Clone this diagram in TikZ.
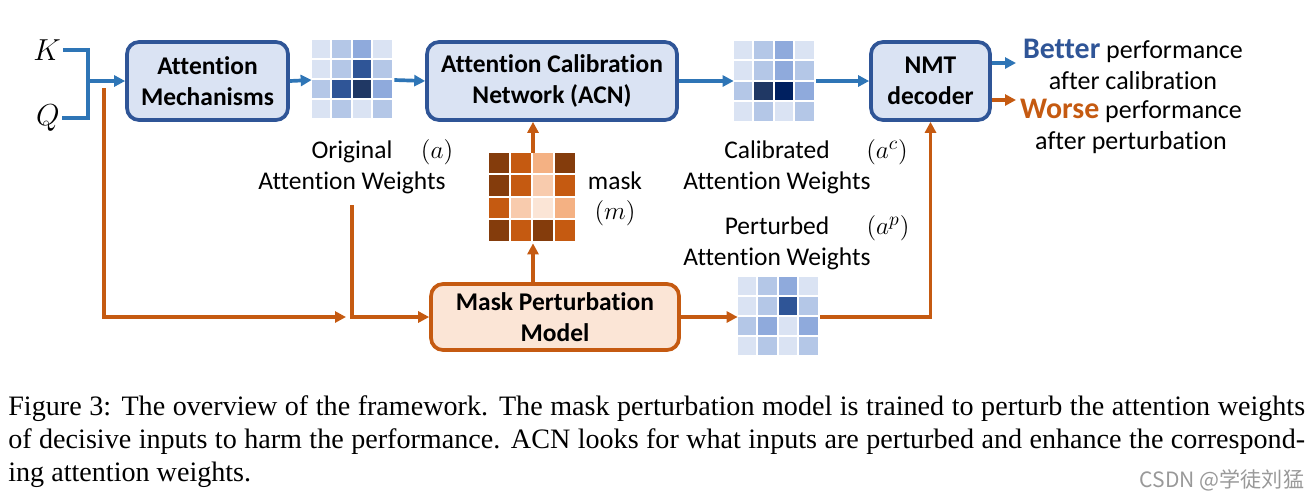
\documentclass[tikz,border=0pt]{standalone}
\usepackage{fontspec}
\setmainfont{Liberation Serif}
\setsansfont{Carlito}[Ligatures=CommonOff]
\newfontfamily\cjkfont{Noto Sans CJK SC}
\usetikzlibrary{arrows.meta,positioning,calc}
% box and arrow colours
\definecolor{boxblue}{HTML}{2F5597}
\definecolor{boxfill}{HTML}{DAE3F3}
\definecolor{arrblue}{HTML}{2E75B6}
\definecolor{orline}{HTML}{C55A11}
\definecolor{orfill}{HTML}{FBE5D6}
% heat map colours
\definecolor{bA}{HTML}{DAE3F3}
\definecolor{bB}{HTML}{B4C7E7}
\definecolor{bC}{HTML}{8FAADC}
\definecolor{bD}{HTML}{2F5597}
\definecolor{bE}{HTML}{203864}
\definecolor{bF}{HTML}{002060}
\definecolor{oA}{HTML}{FBE5D6}
\definecolor{oB}{HTML}{F8CBAD}
\definecolor{oC}{HTML}{F4B183}
\definecolor{oD}{HTML}{C55A11}
\definecolor{oE}{HTML}{843C0C}

\begin{document}
\begin{tikzpicture}[x=0.02cm, y=-0.02cm]
\tikzset{
    %Define style for boxes
    bluebox/.style={
           rectangle,
           rounded corners=0.24cm,
           draw=boxblue, line width=2.1pt,
           fill=boxfill,
           inner sep=0pt,
           align=center,
           font=\sffamily\bfseries\fontsize{14.5}{18}\selectfont},
    orangebox/.style={bluebox, draw=orline, fill=orfill},
    % Define arrow styles
    barrow/.style={
           -{Triangle[length=0.22cm, width=0.22cm]},
           draw=arrblue,
           line width=2.1pt},
    oarrow/.style={barrow, draw=orline},
    % labels and heat maps
    lbl/.style={font=\sffamily\fontsize{14.5}{17.6}\selectfont, align=center, inner sep=0pt},
    mathlbl/.style={font=\fontsize{15}{18}\selectfont, inner sep=0pt},
    heatmap/.style={inner sep=0pt, minimum width=1.64cm, minimum height=1.6cm}
}
\useasboundingbox (0,0) rectangle (1312,498);

 %inputs
 \node[font=\fontsize{16}{19}\selectfont, inner sep=1pt] (K) at (47,50) {$K$};
 \node[font=\fontsize{16}{19}\selectfont, inner sep=1pt] (Q) at (48,118) {$Q$};
 \coordinate (kq) at (88,81);
 \coordinate (qtap) at (104,88);

 %boxes
 \node[bluebox, minimum width=3.22cm, minimum height=1.56cm] (am) at (207.5,81) {Attention\\Mechanisms};
 \node[bluebox, minimum width=5cm, minimum height=1.56cm] (acn) at (552,81) {Attention Calibration\\Network (ACN)};
 \node[bluebox, minimum width=2.38cm, minimum height=1.56cm] (nmt) at (930.5,81) {NMT\\decoder};
 \node[orangebox, minimum width=4.96cm, minimum height=1.32cm] (mpm) at (555,317) {Mask Perturbation\\Model};

 %heat maps
 \node[heatmap] (orig) at (353,80) {};
 \node[heatmap] (calib) at (775,81) {};
 \node[heatmap] (pert) at (779,317) {};
 \node[heatmap, minimum width=1.76cm, minimum height=1.8cm] (mask) at (533,198) {};
 \begin{scope}[shift={(orig.north west)}]
   \foreach \row [count=\i] in {{bA,bB,bC,bA},{bA,bB,bD,bB},{bB,bD,bE,bC},{bA,bB,bA,bB}}
     \foreach \c [count=\j] in \row
       \fill[fill=\c] ({(\j-1)*20.5},{(\i-1)*20}) rectangle ++(18.5,18);
 \end{scope}
 \begin{scope}[shift={(calib.north west)}]
   \foreach \row [count=\i] in {{bA,bB,bC,bA},{bA,bB,bC,bB},{bB,bE,bF,bC},{bA,bB,bA,bB}}
     \foreach \c [count=\j] in \row
       \fill[fill=\c] ({(\j-1)*20.5},{(\i-1)*20.5}) rectangle ++(18.5,18.5);
 \end{scope}
 \begin{scope}[shift={(pert.north west)}]
   \foreach \row [count=\i] in {{bA,bB,bC,bA},{bA,bB,bD,bB},{bB,bC,bA,bC},{bA,bB,bA,bB}}
     \foreach \c [count=\j] in \row
       \fill[fill=\c] ({(\j-1)*20.5},{(\i-1)*20}) rectangle ++(18.5,18);
 \end{scope}
 \begin{scope}[shift={(mask.north west)}]
   \foreach \row [count=\i] in {{oE,oD,oC,oE},{oE,oD,oB,oD},{oD,oB,oA,oC},{oE,oD,oE,oD}}
     \foreach \c [count=\j] in \row
       \fill[fill=\c] ({(\j-1)*22},{(\i-1)*22.5}) rectangle ++(20,20.5);
 \end{scope}

 %labels
 \node[lbl] (origlbl) at (352,167) {Original\\Attention Weights};
 \node[mathlbl] at (437,152) {$(a)$};
 \node[lbl] (caliblbl) at (777,167) {Calibrated\\Attention Weights};
 \node[mathlbl] at (887,152) {$(a^c)$};
 \node[lbl] (pertlbl) at (777,243) {Perturbed\\Attention Weights};
 \node[mathlbl] at (888,228) {$(a^p)$};
 \node[lbl] (masklbl) at (615,181) {mask};
 \node[mathlbl] at (615,213) {$(m)$};
 \coordinate (wtap) at (352,205);

 %outputs
 \node[lbl, font=\sffamily\fontsize{14.8}{17.6}\selectfont] (better) at (1133,64)
   {{\fontsize{17}{17}\selectfont\bfseries\color{boxblue}Better} performance\\after calibration};
 \node[lbl, font=\sffamily\fontsize{14.8}{17.6}\selectfont] (worse) at (1131,126)
   {{\fontsize{17}{17}\selectfont\bfseries\color{orline}Worse} performance\\after perturbation};
 \coordinate (outb) at (1016,63);
 \coordinate (outw) at (1016,100);

 %connectors
 \draw[barrow, -] (K.east) -| (kq) |- (Q.east);
 \draw[barrow] (kq) -- (am.west);
 \draw[barrow] (am.east) -- (orig.west);
 \draw[barrow] (orig.east) -- (acn.west);
 \draw[barrow] (acn.east) -- (calib.west);
 \draw[barrow] (calib.east) -- (nmt.west);
 \draw[barrow] (nmt.east |- outb) -- (outb);
 \draw[oarrow] (nmt.east |- outw) -- (outw);
 \draw[oarrow] (qtap) |- ($(wtap |- mpm.west)+(-6,0)$);
 \draw[oarrow] (wtap) |- (mpm.west);
 \draw[oarrow] (mpm.north -| mask.south) -- (mask.south);
 \draw[oarrow] (mask.north) -- (mask.north |- acn.south);
 \draw[oarrow] (mpm.east) -- (pert.west);
 \draw[oarrow] (pert.east) -| (nmt.south);

 %caption
 \node[anchor=north west, inner sep=0pt, text width=25.94cm, align=justify,
       font=\fontsize{16}{18.8}\selectfont] (caption) at (8,395)
   {Figure 3: The overview of the framework. The mask perturbation model is trained to perturb the attention weights\linebreak
    of decisive inputs to harm the performance. ACN looks for what inputs are perturbed and enhance the correspond-\linebreak
    ing attention weights.};
 \node[font=\cjkfont\fontsize{12}{14}\selectfont, text=gray!80, inner sep=0pt] (mark) at (1222,480) {CSDN @学徒刘猛};
\end{tikzpicture}
\end{document}
